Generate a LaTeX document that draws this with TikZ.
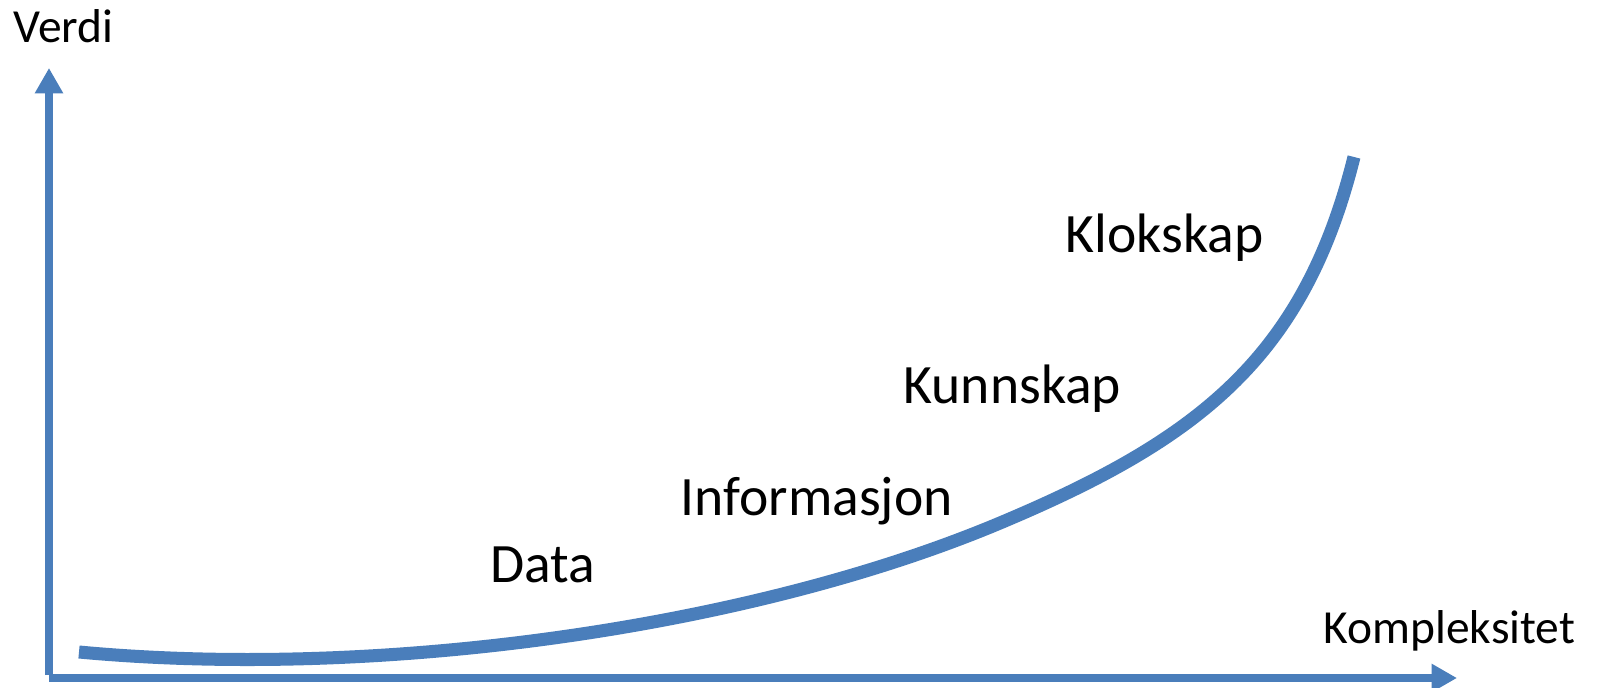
\documentclass[tikz,border=0pt]{standalone}
\usepackage{fontspec}
\setmainfont{Carlito}
\usepackage{xcolor}
\usetikzlibrary{arrows.meta,positioning}
\definecolor{axisblue}{RGB}{74,126,187}

\begin{document}
\begin{tikzpicture}[x=0.01cm,y=-0.01cm,
		axis/.style={axisblue,line width=2.2pt,-{Triangle[length=7.2pt,width=7.6pt]}},
		level/.style={anchor=base west,inner sep=0pt,font=\fontsize{15.8}{19}\selectfont},
		axislabel/.style={anchor=base west,inner sep=0pt,font=\fontsize{13.5}{16}\selectfont}]
		\useasboundingbox (0,0) rectangle (1597,688);
		
		\coordinate (origin) at (49,678);
		\coordinate (ytip) at (49,68);
		\coordinate (xtip) at (1457,678);
		\draw[axis] (49,675) -- (ytip);
		\draw[axis] (origin) -- (xtip);
		
		\node[axislabel] (verdi) at (13,43) {Verdi};
		\node[axislabel] (kompleksitet) at (1323,643) {Kompleksitet};
		
		% growth curve
		\draw[axisblue,line width=3.7pt] (79,652) .. controls (379,680) and (750,628) .. (1000,523)
			.. controls (1200,439) and (1304,357) .. (1354,157);
		
		\node[level] (data) at (490,582) {Data};
		\node[level] (info) at (680,515) {Informasjon};
		\node[level] (kunnskap) at (903,403) {Kunnskap};
		\node[level] (klokskap) at (1065,252) {Klokskap};
\end{tikzpicture}
\end{document}
